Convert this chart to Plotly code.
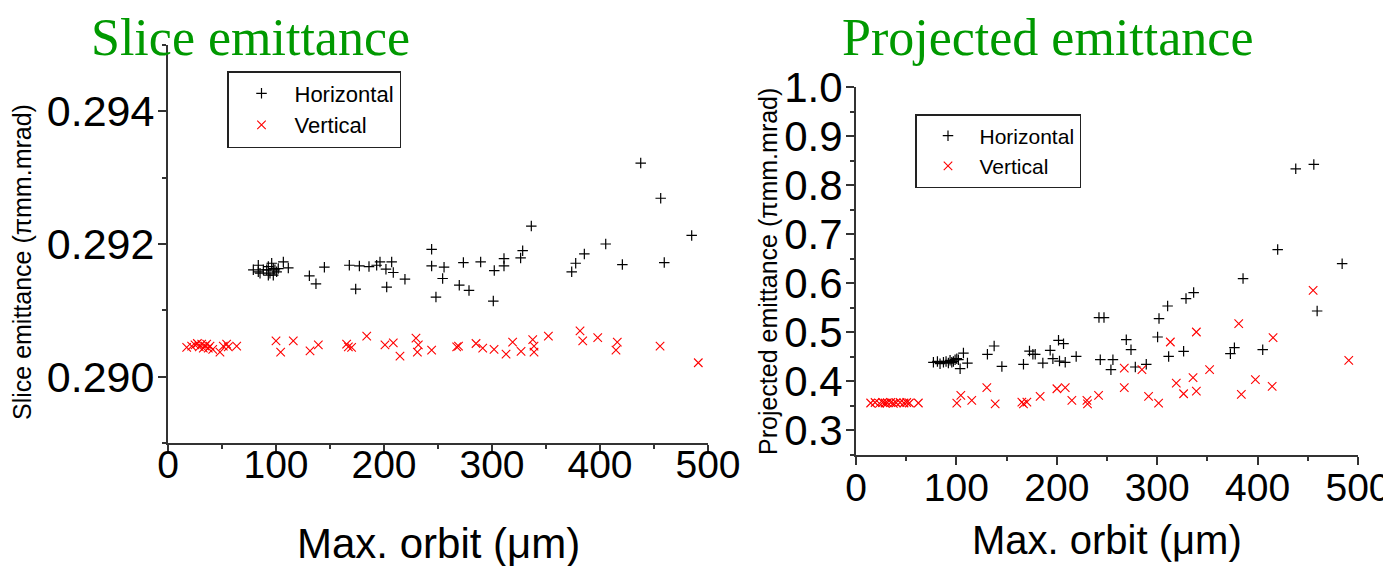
import plotly.graph_objects as go

# ---------------- data ----------------
slice_h_x = [79, 83.6, 83.6, 85.2, 88.3, 91.4, 92.9, 92.9, 94.4, 96, 97.5, 97.5, 99, 100.6, 102.1,
             106.8, 111.4, 130.9, 137, 144.8, 167.9, 173.8, 177.2, 186.1, 193.2, 196.3, 201.8, 202.5,
             207.1, 208.6, 219.4, 244.1, 244.1, 248.1, 254.3, 255.6, 269.7, 273.5, 278.7, 289.5, 301.2,
             302.1, 311.1, 311.1, 326.5, 328.4, 336.4, 373.8, 377.5, 385.5, 405.3, 420.7, 437.7, 456.2,
             459.5, 484.9]
slice_h_y = [0.29161, 0.29168, 0.29158, 0.29156, 0.29161, 0.29161, 0.29166, 0.29153, 0.29156, 0.29171,
             0.29163, 0.29153, 0.29161, 0.29158, 0.29163, 0.29173, 0.29164, 0.29152, 0.29140, 0.29165,
             0.29168, 0.29132, 0.29167, 0.29166, 0.29168, 0.29173, 0.29162, 0.29135, 0.29173, 0.29157,
             0.29147, 0.29192, 0.29167, 0.29120, 0.29148, 0.29165, 0.29138, 0.29172, 0.29130, 0.29173,
             0.29114, 0.29160, 0.29178, 0.29167, 0.29179, 0.29190, 0.29227, 0.29158, 0.29171, 0.29185,
             0.29200, 0.29169, 0.29322, 0.29269, 0.29172, 0.29213]

slice_v_x = [17.3, 21.9, 25, 27.2, 29, 31.2, 32.7, 34.3, 35.8, 37.3, 38.9, 41.4, 48.1, 51.2, 54.3, 55.8,
             63.6, 100, 104.3, 116, 131.5, 139.2, 165.4, 167, 170, 184, 200.9, 208.6, 214.8, 229.6, 230.9,
             231.8, 244.1, 267.3, 269, 285.2, 291.4, 301.9, 313, 319.1, 326.9, 337.7, 338.9, 338.9, 352.2,
             381.5, 384, 397.9, 414.8, 416, 455.6, 491]
slice_v_y = [0.29044, 0.29046, 0.29048, 0.29050, 0.29045, 0.29049, 0.29043, 0.29046, 0.29049, 0.29043,
             0.29046, 0.29041, 0.29037, 0.29046, 0.29049, 0.29045, 0.29046, 0.29054, 0.29037, 0.29054,
             0.29039, 0.29048, 0.29049, 0.29045, 0.29044, 0.29061, 0.29048, 0.29051, 0.29031, 0.29058,
             0.29037, 0.29048, 0.29040, 0.29045, 0.29046, 0.29050, 0.29043, 0.29041, 0.29034, 0.29052,
             0.29038, 0.29056, 0.29037, 0.29046, 0.29061, 0.29069, 0.29054, 0.29059, 0.29040, 0.29052,
             0.29046, 0.29021]

proj_h_x = [77.1, 81.1, 83.7, 87.1, 89.7, 92, 93.7, 95.4, 97, 98.7, 100.4, 102, 103.7, 107, 111, 130.9,
            137.6, 145.3, 166.8, 172.8, 176.2, 178.5, 186.1, 193.4, 196.1, 201.7, 202.7, 206.7, 208.4,
            219.3, 242, 247, 243.3, 253.9, 255.9, 269.2, 273.9, 278.2, 289.1, 300.4, 301.8, 310.4, 311.4,
            326.3, 328.7, 336.3, 372.9, 376.9, 385.5, 405.1, 420, 438, 456, 459.3, 484.2]
proj_h_y = [0.4388, 0.4408, 0.4361, 0.4388, 0.4408, 0.4374, 0.4429, 0.4388, 0.4408, 0.4442, 0.4463,
            0.4442, 0.4259, 0.4578, 0.4374, 0.4551, 0.4721, 0.4306, 0.4347, 0.4619, 0.4551, 0.4551,
            0.4374, 0.4633, 0.4463, 0.4837, 0.4415, 0.4769, 0.4388, 0.4510, 0.530, 0.530, 0.4442, 0.4239,
            0.4442, 0.485, 0.4647, 0.4293, 0.4347, 0.4905, 0.528, 0.5537, 0.4510, 0.4612, 0.5687, 0.581,
            0.4565, 0.4687, 0.6095, 0.4646, 0.6687, 0.8333, 0.8422, 0.5435, 0.640]

proj_v_x = [14.6, 19, 23.3, 26.6, 28.9, 31.2, 34.6, 37.2, 39.9, 43.9, 47.8, 50.5, 53.2, 62.1, 100.4,
            104.4, 115.3, 130.3, 138.6, 165.2, 166.8, 170.2, 183.4, 200.1, 208.4, 215, 230, 230.6, 241.6,
            267.2, 267.2, 284.8, 291.4, 301.4, 313.1, 319, 326.3, 335.7, 339, 339, 352.2, 381.2, 383.8,
            397.8, 414.5, 415.4, 455.3, 490.8]
proj_v_y = [0.356, 0.357, 0.355, 0.357, 0.356, 0.3565, 0.357, 0.355, 0.3565, 0.357, 0.356, 0.357, 0.356,
            0.356, 0.3557, 0.3714, 0.3612, 0.3871, 0.3544, 0.3578, 0.3544, 0.3578, 0.3694, 0.3850, 0.3871,
            0.3612, 0.3612, 0.3544, 0.3714, 0.4272, 0.3871, 0.4238, 0.3694, 0.3558, 0.4803, 0.3966, 0.3748,
            0.4075, 0.5007, 0.3803, 0.4238, 0.5177, 0.3735, 0.4034, 0.3898, 0.4891, 0.5857, 0.4429]

series_names = ["Horizontal", "Vertical"]
panel_titles = ["Slice emittance", "Projected emittance"]
x_title = "Max. orbit (μm)"
y_titles = ["Slice emittance (πmm.mrad)", "Projected emittance (πmm.mrad)"]

# ---------------- figure ----------------
# the page body has an 8 px margin, so the figure is drawn 8 px smaller and offset
OFF = 8
W, H = 1391 - OFF, 566 - OFF
SANS = "Liberation Sans, Arial, sans-serif"
SERIF = "Liberation Serif, Times New Roman, serif"
AX = "#333333"

def px_x(p):
    return (p - OFF) / W

def px_y(p):
    return 1 - (p - OFF) / H

h_marker = dict(symbol="cross-thin", size=7.5, color="black", line=dict(width=1.2, color="black"))
v_marker = dict(symbol="x-thin", size=8.5, color="red", line=dict(width=1.1, color="red"))

fig = go.Figure()
fig.add_trace(go.Scatter(x=slice_h_x, y=slice_h_y, mode="markers", name=series_names[0],
                         marker=h_marker, xaxis="x", yaxis="y", legend="legend"))
fig.add_trace(go.Scatter(x=slice_v_x, y=slice_v_y, mode="markers", name=series_names[1],
                         marker=v_marker, xaxis="x", yaxis="y", legend="legend"))
fig.add_trace(go.Scatter(x=proj_h_x, y=proj_h_y, mode="markers", name=series_names[0],
                         marker=h_marker, xaxis="x2", yaxis="y2", legend="legend2"))
fig.add_trace(go.Scatter(x=proj_v_x, y=proj_v_y, mode="markers", name=series_names[1],
                         marker=v_marker, xaxis="x2", yaxis="y2", legend="legend2"))

common = dict(showline=True, linecolor=AX, linewidth=2, ticks="outside", ticklen=8, tickwidth=1.5,
              tickcolor=AX, showgrid=False, zeroline=False, mirror=False, automargin=False)
xcommon = dict(common, range=[0, 500], dtick=100, tick0=0,
               tickfont=dict(family=SANS, size=39, color="black"),
               minor=dict(dtick=50, ticks="outside", ticklen=4, tickcolor=AX, tickwidth=1.5, showgrid=False))

fig.update_layout(
    width=W, height=H,
    margin=dict(l=0, r=0, t=0, b=0, pad=0, autoexpand=False),
    paper_bgcolor="white", plot_bgcolor="white",
    showlegend=True,
    xaxis=dict(xcommon, domain=[px_x(168), px_x(708)], anchor="y", ticklabelstandoff=-22),
    yaxis=dict(common, domain=[px_y(443), px_y(45)], anchor="x", range=[0.289, 0.295],
               dtick=0.002, tick0=0.290, tickformat=".3f", ticklabelstandoff=-5,
               tickfont=dict(family=SANS, size=43, color="black"),
               minor=dict(dtick=0.001, ticks="outside", ticklen=4, tickcolor=AX, tickwidth=1.5, showgrid=False)),
    xaxis2=dict(xcommon, domain=[px_x(856), px_x(1358)], anchor="y2", ticklabelstandoff=-11),
    yaxis2=dict(common, domain=[px_y(455), px_y(87)], anchor="x2", range=[0.25, 1.0],
                dtick=0.1, tick0=0.3, tickformat=".1f", ticklabelstandoff=-5,
                tickfont=dict(family=SANS, size=42, color="black"),
                minor=dict(dtick=0.05, ticks="outside", ticklen=4, tickcolor=AX, tickwidth=1.5, showgrid=False)),
    legend=dict(x=px_x(227), y=px_y(71), xanchor="left", yanchor="top",
                bordercolor="#222222", borderwidth=1.5, bgcolor="white",
                font=dict(family=SANS, size=22, color="black"), itemwidth=56,
                tracegroupgap=0),
    legend2=dict(x=px_x(915), y=px_y(114), xanchor="left", yanchor="top",
                 bordercolor="#222222", borderwidth=1.5, bgcolor="white",
                 font=dict(family=SANS, size=21, color="black"), itemwidth=53,
                 tracegroupgap=0),
)

annotations = [
    dict(text=panel_titles[0], x=px_x(250), y=px_y(38), font=dict(family=SERIF, size=52, color="#009900")),
    dict(text=panel_titles[1], x=px_x(1047), y=px_y(38), font=dict(family=SERIF, size=52, color="#009900")),
    dict(text=x_title, x=px_x(438), y=px_y(543), font=dict(family=SANS, size=42, color="black")),
    dict(text=x_title, x=px_x(1107), y=px_y(540), font=dict(family=SANS, size=40, color="black")),
    dict(text=y_titles[0], x=px_x(22), y=px_y(262), textangle=-90,
         font=dict(family=SANS, size=25, color="black")),
    dict(text=y_titles[1], x=px_x(768), y=px_y(272), textangle=-90,
         font=dict(family=SANS, size=25, color="black")),
]
for a in annotations:
    a.update(xref="paper", yref="paper", showarrow=False, xanchor="center", yanchor="middle")
fig.update_layout(annotations=annotations)

fig.write_html("out.html")
